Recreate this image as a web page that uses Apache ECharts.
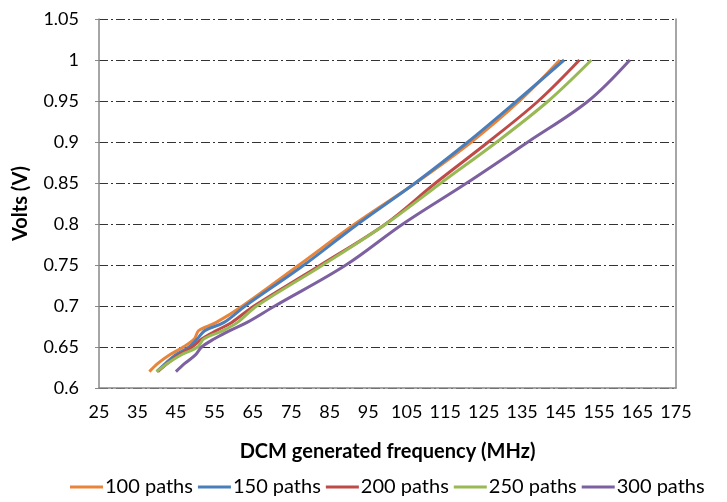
<!DOCTYPE html>
<html>
<head>
<meta charset="utf-8">
<script src="https://cdn.jsdelivr.net/npm/echarts@6/dist/echarts.min.js"></script>
<style>
html,body{margin:0;padding:0;background:#fff;}
#chart{width:727px;height:502px;}
</style>
</head>
<body>
<div id="chart"></div>
<script>
// Data
var volts = [0.62, 0.63, 0.64, 0.65, 0.66, 0.67, 0.68, 0.70, 0.75, 0.80, 0.85, 0.90, 0.95, 1.00];
var seriesNames = ['100 paths', '150 paths', '200 paths', '250 paths', '300 paths'];
var freq100 = [38.1, 40.3, 43.2, 46.9, 49.8, 50.9, 55.5, 62.3, 77.0, 91.5, 107.3, 121.8, 134.3, 144.8];
var freq150 = [40.0, 42.3, 44.8, 48.4, 50.6, 52.5, 57.5, 63.0, 78.3, 92.3, 107.2, 120.9, 133.6, 145.9];
var freq200 = [40.3, 42.8, 45.6, 49.2, 51.8, 55.5, 59.5, 65.3, 82.6, 99.5, 112.5, 126.2, 139.2, 149.9];
var freq250 = [40.0, 42.8, 46.2, 50.6, 52.3, 57.2, 61.0, 66.0, 83.2, 99.6, 113.9, 128.4, 141.8, 153.0];
var freq300 = [45.0, 47.3, 50.0, 51.7, 55.0, 59.0, 63.5, 70.7, 89.2, 104.0, 120.6, 136.5, 152.2, 163.0];
var xTickLabels = ['25','35','45','55','65','75','85','95','105','115','125','135','145','155','165','175'];
var xTitle = 'DCM generated frequency (MHz)';
var yTitle = 'Volts (V)';

var colors = ['#E8853A', '#4A7EBB', '#BE4B48', '#98B954', '#7D60A0'];
var allFreq = [freq100, freq150, freq200, freq250, freq300];
var FONT = 'Lato';

function pairs(fr) {
  return fr.map(function (f, i) { return [f, volts[i]]; });
}

var chart = echarts.init(document.getElementById('chart'));
var series = allFreq.map(function (fr, k) {
  return {
    name: seriesNames[k],
    type: 'line',
    data: pairs(fr),
    smooth: 0.35,
    showSymbol: false,
    symbol: 'none',
    lineStyle: { width: 3, color: colors[k] },
    itemStyle: { color: colors[k] },
    z: 3
  };
});

var gridStyle = { color: '#333', width: 1, type: [9, 3, 2, 3] };

chart.setOption({
  animation: false,
  color: colors,
  grid: { left: 99, right: 51, top: 19, bottom: 114, containLabel: false },
  xAxis: {
    type: 'value',
    min: 25, max: 175, interval: 5,
    axisLine: { show: true, onZero: false, lineStyle: { color: '#888', width: 1.5 } },
    axisTick: { show: false },
    splitLine: { show: false },
    axisLabel: {
      color: '#000', fontFamily: FONT, fontSize: 18, margin: 15,
      formatter: function (v) {
        var idx = Math.round((v - 25) / 10);
        if (Math.abs((v - 25) / 10 - idx) > 1e-6) return '';
        return xTickLabels[idx] || '';
      }
    },
    name: xTitle,
    nameLocation: 'middle',
    nameGap: 54,
    nameTextStyle: { color: '#000', fontFamily: FONT, fontSize: 20, fontWeight: 'bold' }
  },
  yAxis: [{
    type: 'value',
    min: 0.6, max: 1.05, interval: 0.05,
    axisLine: { show: true, lineStyle: { color: '#888', width: 1.5 } },
    axisTick: { show: true, length: 4, inside: false, lineStyle: { color: '#888' } },
    splitLine: { show: true, lineStyle: gridStyle },
    axisLabel: {
      color: '#000', fontFamily: FONT, fontSize: 18, margin: 20,
      formatter: function (v) { return String(parseFloat(v.toFixed(2))); }
    },
    name: yTitle,
    nameLocation: 'middle',
    nameGap: 68,
    nameRotate: 90,
    nameTextStyle: { color: '#000', fontFamily: FONT, fontSize: 20, fontWeight: 'bold' }
  }, {
    type: 'value',
    position: 'right',
    min: 0.6, max: 1.05, interval: 0.05,
    axisLine: { show: true, lineStyle: { color: '#888', width: 1.5 } },
    axisTick: { show: false },
    axisLabel: { show: false },
    splitLine: { show: false }
  }],
  legend: {
    top: 477,
    left: 70,
    padding: 0,
    icon: 'rect',
    itemWidth: 33,
    itemHeight: 3,
    itemGap: 5,
    textStyle: { color: '#000', fontFamily: FONT, fontSize: 20, padding: [0, 0, 0, -3] },
    data: seriesNames
  },
  series: series
});
</script>
</body>
</html>
